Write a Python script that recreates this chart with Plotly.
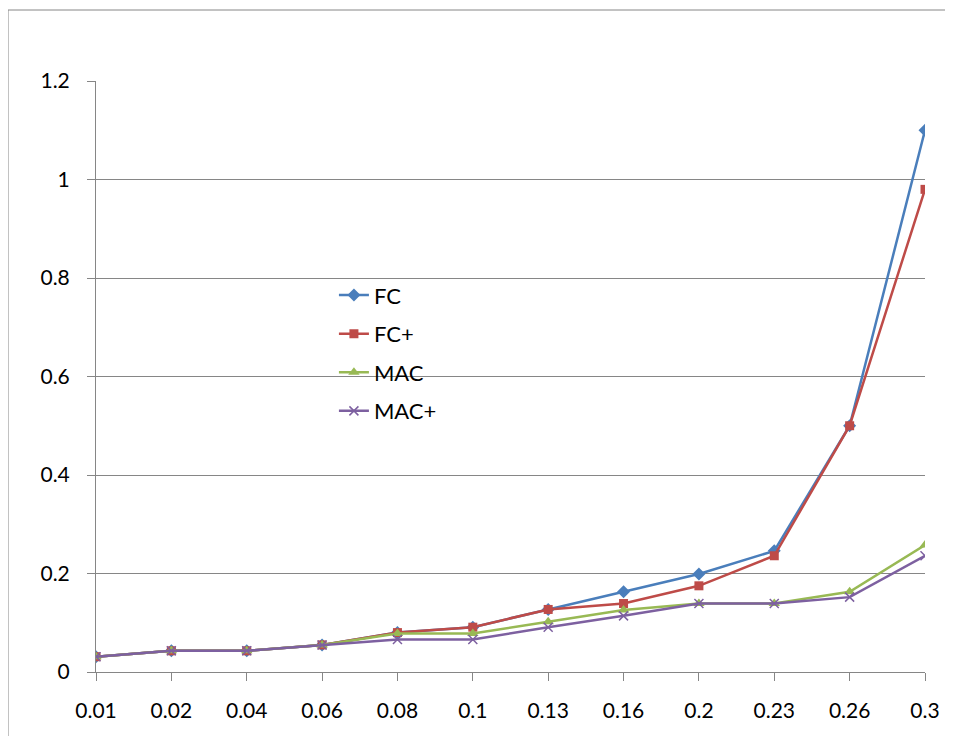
import plotly.graph_objects as go

categories = ["0.01", "0.02", "0.04", "0.06", "0.08", "0.1", "0.13", "0.16", "0.2", "0.23", "0.26", "0.3"]
fc = [0.031, 0.043, 0.043, 0.055, 0.08, 0.091, 0.127, 0.163, 0.199, 0.246, 0.5, 1.1]
fc_plus = [0.031, 0.043, 0.043, 0.055, 0.08, 0.091, 0.127, 0.139, 0.175, 0.236, 0.5, 0.98]
mac = [0.031, 0.043, 0.043, 0.055, 0.078, 0.078, 0.102, 0.126, 0.139, 0.139, 0.163, 0.258]
mac_plus = [0.031, 0.043, 0.043, 0.055, 0.066, 0.066, 0.091, 0.114, 0.139, 0.139, 0.152, 0.236]
y_ticks = [0, 0.2, 0.4, 0.6, 0.8, 1.0, 1.2]
y_tick_labels = ["0", "0.2", "0.4", "0.6", "0.8", "1", "1.2"]

series = [
    ("FC", fc, "#4A7EBB", dict(symbol="diamond", size=10)),
    ("FC+", fc_plus, "#BE4B48", dict(symbol="square", size=9)),
    ("MAC", mac, "#98B954", dict(symbol="triangle-up", size=10)),
    ("MAC+", mac_plus, "#7D60A0", dict(symbol="x-thin", size=9)),
]

FONT = "Lato, Calibri, Carlito, sans-serif"

# page has an 8px body margin; figure is sized/offset to compensate
W, H = 945, 728
ML, MR, MT, MB = 88, 28, 73, 64
PW = W - ML - MR
PH = H - MT - MB

fig = go.Figure()
for i, (name, vals, color, mk) in enumerate(series):
    marker = dict(color=color, symbol=mk["symbol"], size=mk["size"])
    if mk["symbol"] == "x-thin":
        marker["line"] = dict(color=color, width=1.5)
    fig.add_trace(go.Scatter(
        x=list(range(len(categories))), y=vals, name=name, mode="lines+markers",
        line=dict(color=color, width=2.5), marker=marker, legendgroup=f"g{i}",
    ))

bx = (0 - ML) / PW
by = (H - MB - 2) / PH

fig.update_layout(
    width=W, height=H,
    margin=dict(l=ML, r=MR, t=MT, b=MB),
    paper_bgcolor="white", plot_bgcolor="white",
    font=dict(family=FONT, size=21, color="black"),
    showlegend=True,
    legend=dict(x=0.287, y=0.673, xanchor="left", yanchor="top",
                bgcolor="rgba(0,0,0,0)", font=dict(size=22),
                tracegroupgap=7, itemwidth=30),
    xaxis=dict(
        range=[0, len(categories) - 1],
        tickmode="array", tickvals=list(range(len(categories))), ticktext=categories,
        showgrid=False, zeroline=False,
        showline=True, linecolor="#868686", linewidth=1,
        ticks="outside", ticklen=8, tickcolor="#868686",
        ticklabelstandoff=12,
    ),
    yaxis=dict(
        range=[0, 1.2],
        tickmode="array", tickvals=y_ticks, ticktext=y_tick_labels,
        showgrid=True, gridcolor="#868686", gridwidth=1,
        zeroline=False,
        showline=True, linecolor="#868686", linewidth=1,
        ticks="outside", ticklen=8, tickcolor="#868686",
        ticklabelstandoff=13,
    ),
    shapes=[
        dict(type="line", xref="paper", yref="paper",
             x0=bx, x1=(W + 20 - ML) / PW, y0=by, y1=by,
             line=dict(color="#868686", width=1)),
        dict(type="line", xref="paper", yref="paper",
             x0=bx, x1=bx, y0=by, y1=-(MB + 20) / PH,
             line=dict(color="#868686", width=1)),
    ],
)

fig.write_html("out.html")
